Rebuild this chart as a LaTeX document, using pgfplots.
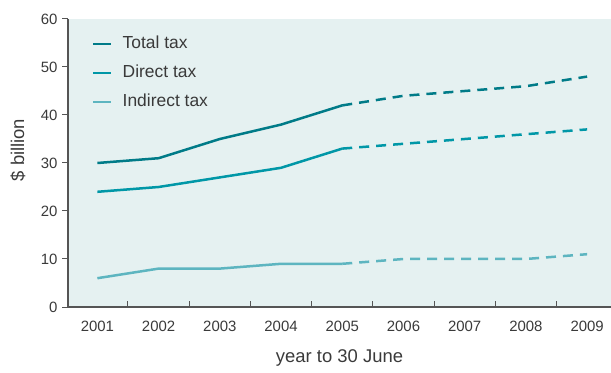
\documentclass[border=0pt]{standalone}
\usepackage{pgfplots}
\pgfplotsset{compat=1.18}
\usepackage{fontspec}
\setmainfont{Liberation Sans}
\definecolor{bgc}{HTML}{E5F1F1}
\definecolor{totc}{HTML}{007B88}
\definecolor{dirc}{HTML}{0097A7}
\definecolor{indc}{HTML}{5DB5C0}
\definecolor{axc}{HTML}{555555}
\definecolor{txc}{HTML}{3A3A3A}
\begin{document}
\begin{tikzpicture}
\begin{axis}[
  scale only axis, width=543bp, height=288bp,
  xmin=2000.52, xmax=2009.39, ymin=0, ymax=60,
  axis x line*=bottom, axis y line*=left,
  axis line style={axc, line width=1.2bp},
  axis background/.style={fill=bgc},
  ytick={0,10,...,60},
  xtick={2001.5,2002.5,2003.5,2004.5,2005.5,2006.5,2007.5,2008.5},
  xticklabels={},
  extra x ticks={2001,2002,2003,2004,2005,2006,2007,2008,2009},
  extra x tick style={major tick length=0pt, xticklabel style={yshift=-11bp}},
  xtick align=inside, ytick align=outside,
  major tick length=6bp,
  tick style={axc, line width=1bp},
  /pgf/number format/assume math mode=true,
  /pgf/number format/1000 sep={},
  ticklabel style={font=\fontsize{15}{17}\selectfont, text=txc},
  yticklabel style={xshift=-1bp},
  xlabel={year to 30 June},
  ylabel={\$ billion},
  label style={font=\fontsize{18.5}{20}\selectfont, text=txc},
  xlabel style={at={(axis description cs:0.5,0)}, anchor=center, yshift=-51bp},
  ylabel style={at={(axis description cs:-0.092,0.545)}, anchor=center},
  legend style={draw=none, fill=none, inner sep=0pt, anchor=north west,
    at={(axis description cs:0.0442,0.941)},
    nodes={inner sep=0pt, text height=12bp, text depth=4bp, font=\fontsize{17.5}{19}\selectfont, text=txc},
    row sep=13bp},
  legend cell align=left,
  legend image code/.code={\draw[#1, line width=2.5bp, solid] (0bp,0bp) -- (18bp,0bp);},
  /tikz/every odd column/.append style={column sep=10bp},
]
\coordinate (bl) at (rel axis cs:0,0);
\coordinate (tr) at (rel axis cs:1,1);
\addplot[totc, line width=2.5bp] coordinates {(2001,30) (2002,31) (2003,35) (2004,38) (2005,42)};
\addlegendentry{Total tax}
\addplot[dirc, line width=2.5bp] coordinates {(2001,24) (2002,25) (2003,27) (2004,29) (2005,33)};
\addlegendentry{Direct tax}
\addplot[indc, line width=2.5bp] coordinates {(2001,6) (2002,8) (2003,8) (2004,9) (2005,9)};
\addlegendentry{Indirect tax}
\addplot[totc, line width=2.5bp, dash pattern=on 10bp off 7bp, forget plot] coordinates {(2005,42) (2006,44) (2007,45) (2008,46) (2009,48)};
\addplot[dirc, line width=2.5bp, dash pattern=on 10bp off 7bp, forget plot] coordinates {(2005,33) (2006,34) (2007,35) (2008,36) (2009,37)};
\addplot[indc, line width=2.5bp, dash pattern=on 10bp off 7bp, forget plot] coordinates {(2005,9) (2006,10) (2007,10) (2008,10) (2009,11)};
\end{axis}
\pgfresetboundingbox
\path[use as bounding box] ([shift={(-68bp,-66bp)}]bl) rectangle ([shift={(0bp,19bp)}]tr);
\end{tikzpicture}
\end{document}
